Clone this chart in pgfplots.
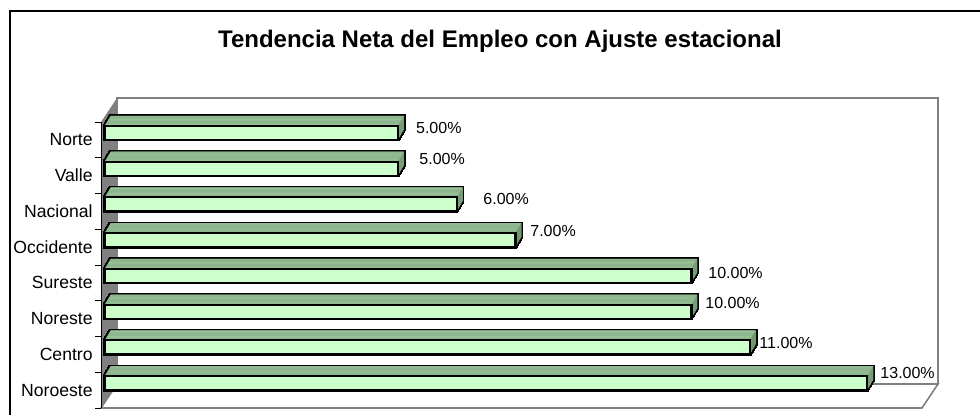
\documentclass[border=0pt]{standalone}
\usepackage{fontspec}
\setmainfont{Liberation Sans}
\usepackage{pgfplots}
\usepackage{pgfplotstable}
\pgfplotsset{compat=1.18}

\definecolor{frontgreen}{RGB}{204,255,204}
\definecolor{topgreen}{RGB}{153,194,153}
\definecolor{sidegreen}{RGB}{110,145,110}
\definecolor{wallgray}{RGB}{128,128,128}

% idx val  label offsets (px): dx right of bar end, dy up from category centre
\pgfplotstableread{
idx val dx   dy
0   13  16.7 17.4
1   11  13.0 11.4
2   10  17.6 15.6
3   10  20.6 10.2
4   7   18.5 16.1
5   6   30.2 12.1
6   5   24.8 16.6
7   5   21.5 12.4
}\datatable

\begin{document}
\begin{tikzpicture}
\useasboundingbox (0,0) rectangle (490pt,-207pt);
\begin{scope}[x=0.5pt,y=-0.5pt]
  % chart frame
  \draw[black, line width=1pt] (10,430) -- (10,11) -- (1000,11);
  % walls and floor
  \filldraw[fill=white, draw=wallgray, line width=0.8pt] (117,98) rectangle (938,384);
  \filldraw[fill=white, draw=wallgray, line width=0.8pt] (101,408) -- (117,384) -- (938,384) -- (922,408) -- cycle;
  \fill[wallgray] (101,122) -- (117,98) -- (117,384) -- (101,408) -- cycle;
  % title
  \node[anchor=base, inner sep=0pt, font=\bfseries\fontsize{12}{14}\selectfont] at (500,47)
    {Tendencia Neta del Empleo con Ajuste estacional};
\end{scope}

\begin{axis}[
    at={(50.5pt,-204pt)}, anchor=south west,
    scale only axis,
    width=410.5pt, height=143pt,
    xmin=0, xmax=14, ymin=-0.5, ymax=7.5,
    clip=false,
    axis x line=none,
    axis y line*=left,
    y axis line style={black, line width=0.5pt},
    ytick={0,...,7},
    yticklabels={Noroeste,Centro,Noreste,Sureste,Occidente,Nacional,Valle,Norte},
    minor ytick={-0.5,0.5,...,7.5},
    major tick length=0pt,
    minor tick length=3pt,
    ytick align=outside,
    tick style={black, line width=0.5pt},
    yticklabel style={font=\fontsize{8.8}{10}\selectfont, inner sep=0pt, xshift=-4pt},
    /pgf/number format/assume math mode=true,
]
  % black silhouette of the 3D bars
  \pgfplotsinvokeforeach{0,...,12}{
    \addplot[xbar, bar width=7pt, bar shift=0pt, fill=black, draw=black, line width=1.5pt,
      xshift={(2+0.25*#1)*1pt}, yshift={(3.5+5*#1/12)*1pt}] table[x=val, y=idx] {\datatable};
    \addplot[xbar, bar width=7pt, bar shift=0pt, fill=black, draw=black, line width=1.5pt,
      xshift={(1.7+0.25*#1)*1pt}, yshift={(3.5+5*#1/12)*1pt}] table[x=val, y=idx] {\datatable};
  }
  % top and side faces, painted back to front
  \pgfplotsinvokeforeach{12,11,...,0}{
    \addplot[xbar, bar width=7pt, bar shift=0pt, fill=sidegreen, draw=none,
      xshift={(2+0.25*#1)*1pt}, yshift={(3.5+5*#1/12)*1pt}] table[x=val, y=idx] {\datatable};
    \addplot[xbar, bar width=7pt, bar shift=0pt, fill=topgreen, draw=none,
      xshift={(1.7+0.25*#1)*1pt}, yshift={(3.5+5*#1/12)*1pt}] table[x=val, y=idx] {\datatable};
  }
  % front faces
  \addplot[xbar, bar width=7pt, bar shift=0pt, fill=frontgreen, draw=black, line width=1.1pt,
    xshift=2pt, yshift=3.5pt] table[x=val, y=idx] {\datatable};
  % value labels
  \addplot[draw=none, mark=none, point meta=x,
    visualization depends on={\thisrow{dx} \as \ldx},
    visualization depends on={\thisrow{dy} \as \ldy},
    nodes near coords={\pgfmathprintnumber[fixed,fixed zerofill,precision=2]{\pgfplotspointmeta}\%},
    every node near coord/.append style={anchor=west, inner sep=0pt,
      font=\fontsize{8}{9}\selectfont,
      xshift={\ldx*0.5pt}, yshift={\ldy*0.5pt}},
  ] table[x=val, y=idx] {\datatable};
\end{axis}
\end{tikzpicture}
\end{document}
